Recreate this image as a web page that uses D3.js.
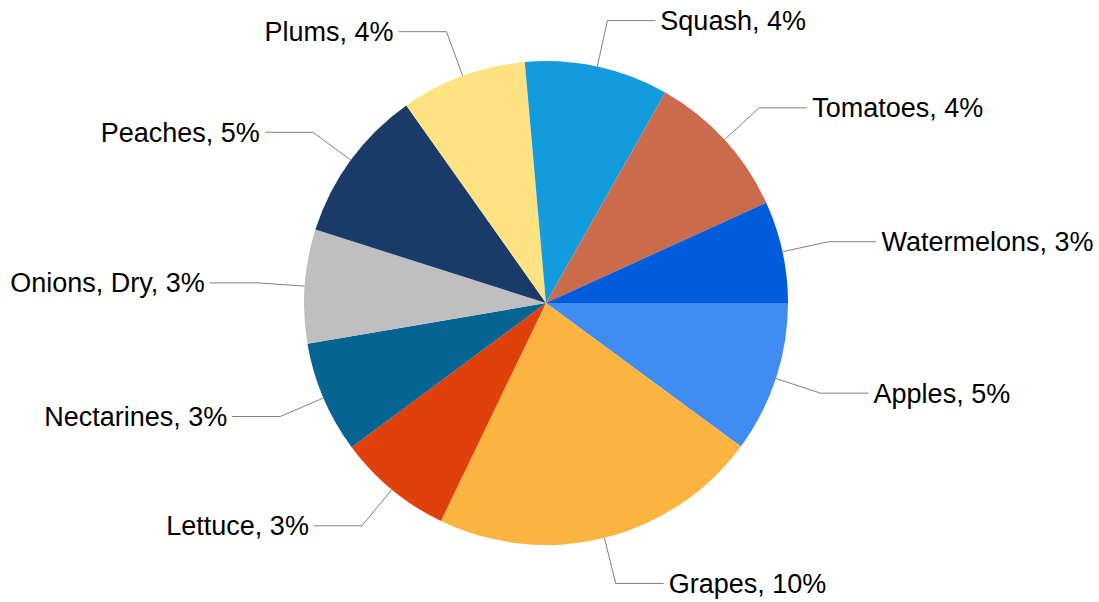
<!DOCTYPE html>
<head>
    <meta charset='utf-8'>
    <title>Produce share</title>
    <script src='https://d3js.org/d3.v7.min.js'></script>
    <style>
        html, body {
            margin: 0px;
            padding: 0px;
            background: white;
        }
        svg {
            display: block;
        }
        .label {
            font-family: 'Liberation Sans', Arial, sans-serif;
            font-size: 27px;
            fill: #000;
        }
        .leader {
            fill: none;
            stroke: #808080;
            stroke-width: 1;
        }
    </style>
</head>
<body>
    <svg id='chart' width='1099' height='602'></svg>

    <script>
        // slices, clockwise from 3 o'clock
        var categories = ['Apples', 'Grapes', 'Lettuce', 'Nectarines', 'Onions, Dry',
                          'Peaches', 'Plums', 'Squash', 'Tomatoes', 'Watermelons'];
        var shares = [10.1, 22.05, 7.7, 7.47, 7.6, 10.3, 8.4, 9.6, 10.0, 6.8];
        var pctLabels = ['5%', '10%', '3%', '3%', '3%', '5%', '4%', '4%', '4%', '3%'];
        var colors = ['#418CF0', '#FCB441', '#E0400A', '#056492', '#BFBFBF',
                      '#1A3B69', '#FFE382', '#129CDD', '#CA6B4B', '#005CDB'];

        var data = categories.map(function(c, i) {
            return {name: c, value: shares[i], pct: pctLabels[i], color: colors[i]};
        });

        var cx = 546, cy = 303, r = 242;
        var elbowR = 289, tail = 48, gap = 5;

        var svg = d3.select('#chart');
        var g = svg.append('g').attr('transform', 'translate(' + cx + ',' + cy + ')');

        var pie = d3.pie()
            .sort(null)
            .value(function(d) { return d.value; })
            .startAngle(Math.PI / 2)
            .endAngle(Math.PI / 2 + 2 * Math.PI);

        var arc = d3.arc().innerRadius(0).outerRadius(r);
        var arcs = pie(data);

        g.selectAll('path.slice')
            .data(arcs)
            .enter()
            .append('path')
            .attr('class', 'slice')
            .attr('d', arc)
            .attr('fill', function(d) { return d.data.color; });

        function pt(a, rad) {
            // d3 angle: 0 at 12 o'clock, clockwise
            return [rad * Math.sin(a), -rad * Math.cos(a)];
        }

        arcs.forEach(function(d) {
            var mid = (d.startAngle + d.endAngle) / 2;
            var p0 = pt(mid, r);
            var p1 = pt(mid, elbowR);
            var right = p1[0] > 0;
            var p2 = [p1[0] + (right ? tail : -tail), p1[1]];

            g.append('polyline')
                .attr('class', 'leader')
                .attr('points', [p0, p1, p2].map(function(p) { return p.join(','); }).join(' '));

            g.append('text')
                .attr('class', 'label')
                .attr('x', p2[0] + (right ? gap : -gap))
                .attr('y', p2[1])
                .attr('dy', '0.35em')
                .attr('text-anchor', right ? 'start' : 'end')
                .text(d.data.name + ', ' + d.data.pct);
        });
    </script>
</body>
